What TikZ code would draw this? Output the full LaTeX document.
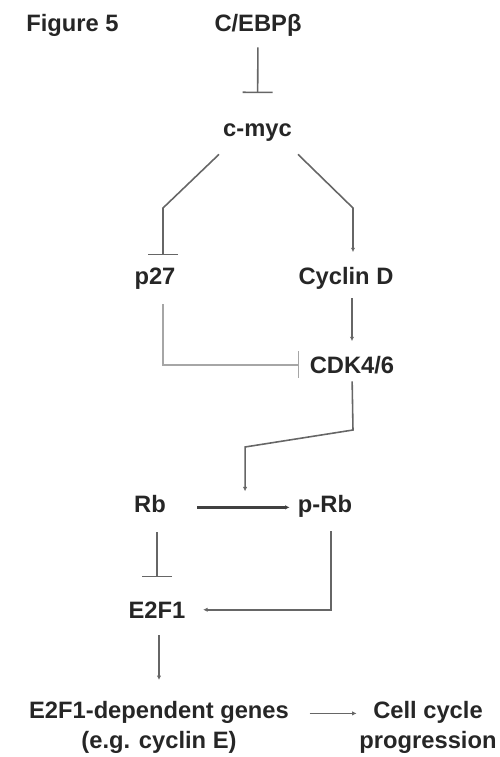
\documentclass[tikz,border=0pt]{standalone}
\usepackage{fontspec}
\setmainfont{Liberation Sans}
\usetikzlibrary{arrows.meta,calc}
\tikzset{
  gene/.style={font=\bfseries\fontsize{13.5}{17}\selectfont, text=black!85, inner sep=0pt,
    anchor=base, text height=0.33cm, text depth=0pt},
  lbl/.style={font=\bfseries\fontsize{13.5}{17}\selectfont, text=black!85, inner sep=0pt,
    align=center, anchor=north},
  act/.style={draw=black!60, line width=0.9pt, -{Latex[length=2.5pt,width=2.5pt]}},
  inhib/.style={draw=black!60, line width=0.9pt, -{Bar[width=#1,line width=0.9pt]}},
  inhib/.default=0.6cm,
}
\begin{document}
\begin{tikzpicture}
  \useasboundingbox (0,0) rectangle (10,15.14);
  % names
  \node[gene] (fig) at (1.45,14.50) {Figure 5};
  \node[gene] (cebp) at (5.16,14.50) {C/EBPβ};
  \node[gene] (cmyc) at (5.15,12.40) {c-myc};
  \node[gene] (p27) at (3.10,9.44) {p27};
  \node[gene] (cycD) at (6.92,9.44) {Cyclin D};
  \node[gene] (cdk) at (7.04,7.68) {CDK4/6};
  \node[gene] (Rb) at (3.00,4.90) {Rb};
  \node[gene] (pRb) at (6.50,4.90) {p-Rb};
  \node[gene] (E2F1) at (3.14,2.78) {E2F1};
  \node[lbl] (genes) at (3.18,1.12) {E2F1-dependent genes\\(e.g. cyclin E)};
  \node[lbl] (cell) at (8.56,1.12) {Cell cycle\\progression};
  % bends
  \coordinate (kL) at (3.26,10.98);
  \coordinate (kR) at (7.06,10.98);
  \coordinate (kC1) at (7.06,6.54);
  \coordinate (conv) at ($(Rb.mid east)!0.6!(pRb.mid west)$);
  \coordinate (kC2) at (conv |- 0,6.20);
  % links
  \draw[inhib, shorten <=0.3cm, shorten >=0.54cm] (cebp.south) -- (cmyc.north);
  \draw[inhib, shorten >=0.26cm] ([shift={(-0.77,-0.34)}]cmyc.south) -- (kL) -- (kL |- p27.north);
  \draw[act, shorten >=0.32cm] ([shift={(0.81,-0.34)}]cmyc.south) -- (kR) -- (kR |- cycD.north);
  \draw[act, shorten <=0.26cm, shorten >=0.30cm] (cycD.south -| cdk.north) -- (cdk.north);
  \draw[inhib=0.54cm, draw=black!35, line width=1.4pt, shorten <=0.38cm, shorten >=0.2cm] (p27.south -| kL) |- (cdk.west);
  \draw[act, shorten <=0.16cm, shorten >=0.32cm] (cdk.south) -- (kC1) -- (kC2) -- (conv);
  \draw[act, draw=black!75, line width=1.3pt, shorten <=0.62cm, shorten >=0.16cm] (Rb.mid east) -- (pRb.mid west);
  \draw[inhib, shorten <=0.40cm, shorten >=0.48cm] (Rb.south -| E2F1.north) -- (E2F1.north);
  \draw[act, shorten <=0.38cm, shorten >=0.35cm] ([xshift=0.12cm]pRb.south) |- (E2F1.east);
  \draw[act, shorten <=0.34cm, shorten >=0.42cm] (E2F1.south -| genes.north) -- (genes.north);
  \draw[act, shorten <=0.41cm, shorten >=0.05cm] ([yshift=0.28cm]genes.east) -- ([yshift=0.28cm]cell.west);
\end{tikzpicture}
\end{document}
